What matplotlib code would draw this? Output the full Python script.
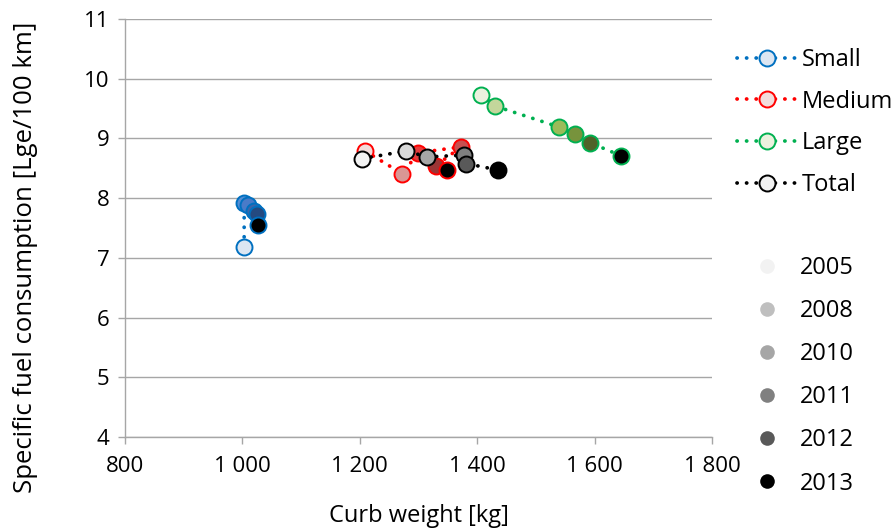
import matplotlib
matplotlib.use("Agg")
import matplotlib.pyplot as plt
from matplotlib.lines import Line2D

plt.rcParams['font.family'] = ['Open Sans', 'DejaVu Sans']

years = ["2005", "2008", "2010", "2011", "2012", "2013"]
series_names = ["Small", "Medium", "Large", "Total"]

small_w = [1003, 1003, 1010, 1019, 1025, 1027]
small_c = [7.19, 7.92, 7.88, 7.79, 7.74, 7.55]
medium_w = [1209, 1272, 1300, 1373, 1329, 1349]
medium_c = [8.79, 8.41, 8.76, 8.86, 8.54, 8.47]
large_w = [1407, 1431, 1540, 1567, 1592, 1645]
large_c = [9.73, 9.54, 9.19, 9.07, 8.93, 8.71]
total_w = [1203, 1279, 1315, 1377, 1381, 1436]
total_c = [8.66, 8.79, 8.69, 8.72, 8.58, 8.47]

xticks = [800, 1000, 1200, 1400, 1600, 1800]
xtick_labels = ["800", "1 000", "1 200", "1 400", "1 600", "1 800"]
yticks = [4, 5, 6, 7, 8, 9, 10, 11]

edge_colors = ["#0070c0", "#ff0000", "#00b050", "#000000"]
fills = [
    ["#dce6f2", "#558ed5", "#4a7bc8", "#3c64a8", "#254a80", "#000000"],
    ["#f2dcdb", "#d99694", "#e83c3c", "#c85050", "#9b3535", "#000000"],
    ["#ebf1de", "#c3d69b", "#9bbb59", "#77933c", "#4f6228", "#000000"],
    ["#f2f2f2", "#d9d9d9", "#a6a6a6", "#7f7f7f", "#595959", "#000000"],
]
year_grays = ["#f2f2f2", "#bfbfbf", "#a6a6a6", "#808080", "#595959", "#000000"]

FS = 16
LFS = 17

fig = plt.figure(figsize=(8.95, 5.29), dpi=100)
ax = fig.add_axes([125 / 895, 1 - 437 / 529, (712 - 125) / 895, (437 - 19) / 529])

data = [(small_w, small_c), (medium_w, medium_c), (large_w, large_c), (total_w, total_c)]
dot_style = (0, (0.05, 2.5))
z = 3
for (w, c), ec, fl in zip(data, edge_colors, fills):
    ax.plot(w, c, linestyle=dot_style, color=ec, linewidth=2.7,
            dash_capstyle='round', zorder=z)
    z += 1
    for xi, yi, f in zip(w, c, fl):
        ax.plot([xi], [yi], marker='o', markersize=11.5, markerfacecolor=f,
                markeredgecolor=ec, markeredgewidth=1.4, linestyle='none', zorder=z)
        z += 1

ax.set_xlim(800, 1800)
ax.set_ylim(4, 11)
ax.set_xticks(xticks)
ax.set_xticklabels(xtick_labels)
ax.set_yticks(yticks)
ax.grid(axis='y', color='#a6a6a6', linewidth=1.0)
ax.set_axisbelow(True)
for s in ['top', 'right']:
    ax.spines[s].set_visible(False)
for s in ['left', 'bottom']:
    ax.spines[s].set_color('#a6a6a6')
    ax.spines[s].set_linewidth(1.0)
ax.tick_params(axis='both', colors='#a6a6a6', length=5, width=1.0,
               labelcolor='black', labelsize=FS)
ax.tick_params(axis='x', pad=9)
ax.tick_params(axis='y', pad=6)
ax.set_xlabel("Curb weight [kg]", fontsize=17, labelpad=19)
ax.set_ylabel("Specific fuel consumption [Lge/100 km]", fontsize=18.5)
ax.yaxis.set_label_coords(-0.148, 0.43)

# series legend
handles1 = [Line2D([0], [0], linestyle=dot_style, color=ec, linewidth=2.7,
                   dash_capstyle='round', marker='o', markersize=11.5,
                   markerfacecolor=fl[0], markeredgecolor=ec, markeredgewidth=1.4)
            for ec, fl in zip(edge_colors, fills)]
leg1 = fig.legend(handles1, series_names, loc='upper left',
                  bbox_to_anchor=(737 / 895, 1 - 48 / 529), frameon=False,
                  fontsize=LFS, handlelength=2.5, handletextpad=0.25,
                  labelspacing=0.745, borderpad=0, borderaxespad=0)

handles2 = [Line2D([0], [0], linestyle='none', marker='o', markersize=10.5,
                   markerfacecolor=g, markeredgewidth=0)
            for g in year_grays]
leg2 = fig.legend(handles2, years, loc='upper left',
                  bbox_to_anchor=(750 / 895, 1 - 256 / 529), frameon=False,
                  fontsize=LFS, handlelength=1.4, handletextpad=0.72,
                  labelspacing=0.81, borderpad=0, borderaxespad=0)

fig.savefig("out.png", dpi=100)
